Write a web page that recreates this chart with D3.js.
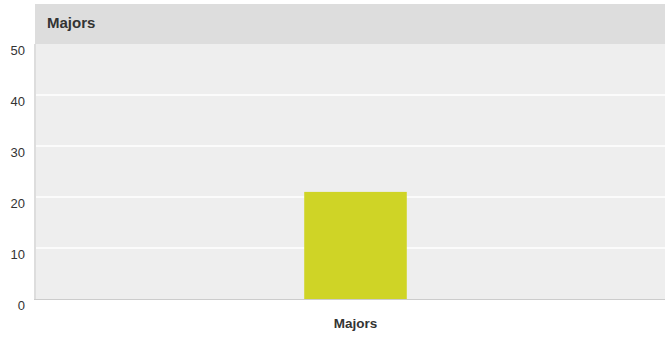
<!DOCTYPE html>
<html>
<head>
<meta charset="utf-8">
<script src="https://cdn.jsdelivr.net/npm/d3@7"></script>
<style>
  html, body { margin: 0; padding: 0; background: #fff; }
  svg { display: block; font-family: "Liberation Sans", Arial, Helvetica, sans-serif; }
</style>
</head>
<body>
<svg id="chart" width="665" height="337"></svg>
<script>
// Chart data
const categories = ["Majors"];
const values = [21];
const yTicks = [0, 10, 20, 30, 40, 50];
const title = "Majors";

const width = 665, height = 337;
const plot = { left: 35, right: 676, top: 44, bottom: 299 };

const svg = d3.select("#chart");

const x = d3.scaleBand()
  .domain(categories)
  .range([plot.left, plot.right])
  .paddingInner(0.84)
  .paddingOuter(0.42);

const y = d3.scaleLinear()
  .domain([0, 50])
  .range([plot.bottom, plot.top]);

// Header band
svg.append("rect")
  .attr("x", plot.left).attr("y", 4)
  .attr("width", width - plot.left).attr("height", plot.top - 4)
  .attr("fill", "#dddddd");

svg.append("text")
  .attr("x", 47).attr("y", 27.5)
  .attr("font-size", 15).attr("font-weight", "bold")
  .attr("fill", "#333")
  .text(title);

// Plot background
svg.append("rect")
  .attr("x", plot.left).attr("y", plot.top)
  .attr("width", width - plot.left).attr("height", plot.bottom - plot.top)
  .attr("fill", "#eeeeee");

// Gridlines
svg.append("g")
  .selectAll("line")
  .data(yTicks.filter(d => d > 0 && d < 50))
  .join("line")
  .attr("x1", plot.left).attr("x2", width)
  .attr("y1", d => y(d)).attr("y2", d => y(d))
  .attr("stroke", "#ffffff").attr("stroke-width", 1.5);

// Bars
svg.append("g")
  .selectAll("rect")
  .data(categories.map((c, i) => ({ c, v: values[i] })))
  .join("rect")
  .attr("x", d => x(d.c))
  .attr("width", x.bandwidth())
  .attr("y", d => y(d.v))
  .attr("height", d => y(0) - y(d.v))
  .attr("fill", "#cfd426");

// Left axis line
svg.append("line")
  .attr("x1", plot.left).attr("x2", plot.left)
  .attr("y1", plot.top).attr("y2", plot.bottom)
  .attr("stroke", "#dddddd").attr("stroke-width", 2);

// Bottom axis line
svg.append("line")
  .attr("x1", plot.left - 1).attr("x2", width)
  .attr("y1", plot.bottom + 0.5).attr("y2", plot.bottom + 0.5)
  .attr("stroke", "#cccccc").attr("stroke-width", 1);

// Y axis labels
const yAxis = d3.axisLeft(y).tickValues(yTicks).tickSize(0).tickPadding(10);
const yg = svg.append("g").attr("transform", `translate(${plot.left},0)`).call(yAxis);
yg.select(".domain").remove();
yg.selectAll("text")
  .attr("font-size", 13)
  .attr("font-family", "\"Liberation Sans\", Arial, sans-serif")
  .attr("fill", "#333")
  .attr("dy", "0.8em");

// X axis labels
const xAxis = d3.axisBottom(x).tickSize(0).tickPadding(19);
const xg = svg.append("g").attr("transform", `translate(0,${plot.bottom})`).call(xAxis);
xg.select(".domain").remove();
xg.selectAll("text")
  .attr("font-size", 13.5)
  .attr("font-weight", "bold")
  .attr("font-family", "\"Liberation Sans\", Arial, sans-serif")
  .attr("fill", "#333");
</script>
</body>
</html>
